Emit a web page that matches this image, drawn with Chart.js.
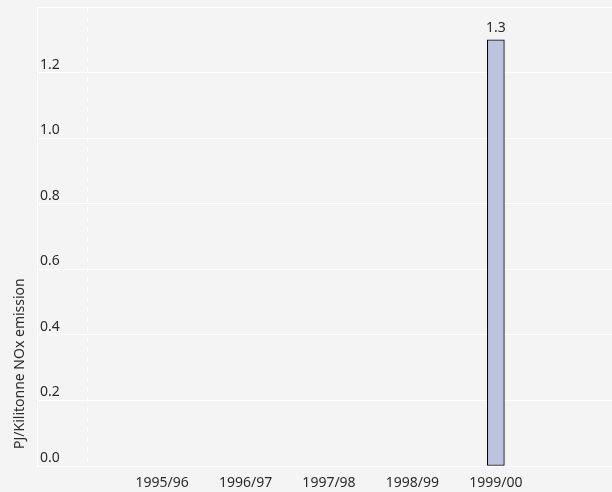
<!DOCTYPE html>
<html>
<head>
<meta charset="utf-8">
<script src="https://cdn.jsdelivr.net/npm/chart.js@4.4.0/dist/chart.umd.min.js"></script>
<style>
  html, body { margin: 0; padding: 0; background: #f4f4f4; overflow: hidden; }
</style>
</head>
<body>
<canvas id="myChart" width="621" height="492"></canvas>
<script>
// blank first/last slots keep the empty margins of the original plot
const categories = ["", "1995/96", "1996/97", "1997/98", "1998/99", "1999/00", ""];
const intensity = [null, null, null, null, null, 1.3, null];
const yTicks = [0, 0.2, 0.4, 0.6, 0.8, 1.0, 1.2, 1.4];
const yTitle = "PJ/Kilitonne NOx emission";

const fontFamily = "'Noto Sans', 'Open Sans', sans-serif";
const textColor = "#2b2b2b";

const extras = {
  id: "extras",
  beforeDatasetsDraw(chart) {
    // light dashed guide near the left edge
    let ctx = chart.ctx;
    let area = chart.chartArea;
    ctx.save();
    ctx.strokeStyle = "#ffffff";
    ctx.lineWidth = 1;
    ctx.setLineDash([5, 5]);
    ctx.beginPath();
    ctx.moveTo(Math.round(area.left) + 50.5, area.top);
    ctx.lineTo(Math.round(area.left) + 50.5, area.bottom);
    ctx.stroke();
    ctx.restore();
  },
  afterDatasetsDraw(chart) {
    // value labels above the bars
    let ctx = chart.ctx;
    let meta = chart.getDatasetMeta(0);
    ctx.save();
    ctx.font = "14px " + fontFamily;
    ctx.fillStyle = textColor;
    ctx.textAlign = "center";
    ctx.textBaseline = "alphabetic";
    meta.data.forEach((bar, i) => {
      let v = intensity[i];
      if (v === null) return;
      ctx.fillText(v.toFixed(1), bar.x, bar.y - 8);
    });
    ctx.restore();
  },
  afterDraw(chart) {
    // axis title, sitting low on the left side
    let ctx = chart.ctx;
    ctx.save();
    ctx.font = "14px " + fontFamily;
    ctx.fillStyle = textColor;
    ctx.translate(24, chart.chartArea.bottom - 17);
    ctx.rotate(-Math.PI / 2);
    ctx.textAlign = "left";
    ctx.textBaseline = "alphabetic";
    ctx.fillText(yTitle, 0, 0);
    ctx.restore();
  },
};

let ctx = document.getElementById("myChart").getContext("2d");
let mainChart = new Chart(ctx, {
  type: "bar",
  data: {
    labels: categories,
    datasets: [
      {
        data: intensity,
        backgroundColor: "#bbc3e0",
        borderColor: "#000000",
        borderWidth: 1,
        borderSkipped: false,
        barThickness: 17,
      },
    ],
  },
  options: {
    responsive: false,
    animation: false,
    layout: {
      padding: { left: 31, top: 7, right: 0, bottom: 0 },
    },
    plugins: {
      legend: { display: false },
      tooltip: { enabled: false },
    },
    scales: {
      x: {
        grid: { display: false, drawTicks: false },
        border: { display: true, color: "#ffffff" },
        ticks: {
          color: textColor,
          font: { family: fontFamily, size: 14 },
          padding: 9,
          maxRotation: 0,
          autoSkip: false,
        },
        afterFit(scale) {
          scale.height = 26;
          scale.paddingLeft = 0;
          scale.paddingRight = 0;
        },
      },
      y: {
        min: 0,
        max: 1.4,
        afterBuildTicks(scale) {
          scale.ticks = yTicks.map((v) => ({ value: v }));
        },
        afterFit(scale) {
          scale.paddingTop = 0;
          scale.paddingBottom = 0;
        },
        grid: { color: "#ffffff", lineWidth: 1, drawTicks: false },
        border: { display: true, color: "#ffffff" },
        ticks: {
          mirror: true,
          padding: 3,
          labelOffset: -8,
          color: textColor,
          font: { family: fontFamily, size: 14 },
          callback: (v) => (v >= 1.4 ? "" : Number(v).toFixed(1)),
        },
      },
    },
  },
  plugins: [extras],
});
</script>
</body>
</html>
